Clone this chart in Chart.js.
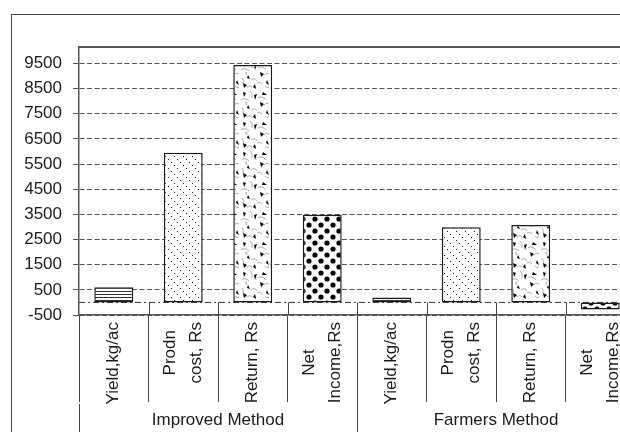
<!DOCTYPE html>
<html><head><meta charset="utf-8">
<script src="https://cdn.jsdelivr.net/npm/chart.js@4.4.1/dist/chart.umd.min.js"></script>
<style>
html,body{margin:0;padding:0;background:#fff;overflow:hidden;width:620px;height:432px;}
#frame{position:absolute;left:11px;top:14px;width:700px;height:500px;border:1.5px solid #4a4a4a;box-sizing:border-box;}
#wrap{position:absolute;left:0;top:0;width:660px;height:432px;}
</style></head><body>
<div id="frame"></div>
<div id="wrap"><canvas id="c" width="660" height="432"></canvas></div>
<script>
const categories = ['Yield,kg/ac', ['Prodn', 'cost, Rs'], 'Return, Rs', ['Net', 'Income,Rs'],
                    'Yield,kg/ac', ['Prodn', 'cost, Rs'], 'Return, Rs', ['Net', 'Income,Rs']];
const groups = ['Improved Method', 'Farmers Method'];
const values = [600, 5950, 9430, 3480, 200, 2990, 3080, -280];
const yTicks = [-500, 500, 1500, 2500, 3500, 4500, 5500, 6500, 7500, 8500, 9500];
const yMin = -500;
const yMax = 10150;

const FONT = 'Liberation Sans, Arial, sans-serif';
const canvas = document.getElementById('c');
const ctxMain = canvas.getContext('2d');

function tile(w, h, draw) {
  const c = document.createElement('canvas');
  c.width = w; c.height = h;
  const g = c.getContext('2d');
  g.fillStyle = '#fff'; g.fillRect(0, 0, w, h);
  g.fillStyle = '#111'; g.strokeStyle = '#111';
  draw(g);
  return ctxMain.createPattern(c, 'repeat');
}
const pHoriz = tile(4, 3, g => { g.fillStyle = '#333'; g.fillRect(0, 0, 4, 1); });
const pDiag = tile(9, 9, g => { g.fillStyle = '#1a1a1a'; [0, 3, 6].forEach(i => g.fillRect(i, i, 1, 1)); });
const pShard = tile(30, 30, g => {
  g.strokeStyle = '#888'; g.lineWidth = 0.7;
  const curves = [[1,10,5,7,9,11], [10,1,13,3,12,8], [18,8,22,5,26,10], [2,18,4,20,3,23], [11,20,15,17,17,21],
                  [24,15,26,12,29,14], [7,27,10,24,12,27], [17,23,20,21,22,24], [25,26,27,29,29,27], [5,13,8,11,6,15]];
  curves.forEach(c => { g.beginPath(); g.moveTo(c[0], c[1]); g.quadraticCurveTo(c[2], c[3], c[4], c[5]); g.stroke(); });
  g.fillStyle = '#000';
  const tris = [[[3,2],[6,3],[4,7]], [[14,5],[17,4],[15,10]], [[23,2],[27,5],[22,5]],
                [[8,15],[10,19],[7,18]], [[20,12],[24,14],[21,17]], [[27,20],[29,25],[26,23]],
                [[3,23],[7,25],[4,28]], [[15,24],[16,29],[13,27]]];
  tris.forEach(t => { g.beginPath(); g.moveTo(t[0][0], t[0][1]); g.lineTo(t[1][0], t[1][1]); g.lineTo(t[2][0], t[2][1]); g.closePath(); g.fill(); });
});
const pDots = tile(12, 12, g => {
  g.fillStyle = '#000';
  [[3, 3], [9, 9]].forEach(p => { g.beginPath(); g.arc(p[0], p[1], 2.6, 0, Math.PI * 2); g.fill(); });
});

const decor = {
  id: 'decor',
  beforeDraw(chart) {
    // centre multi-line rotated category labels on their category, lines centred on each other
    const s = chart.scales.x;
    const items = s.getLabelItems();
    if (items._fixed) return;
    const ctx = chart.ctx;
    items.forEach(it => {
      const lines = Array.isArray(it.label) ? it.label : [it.label];
      const lh = it.font.lineHeight;
      ctx.save(); ctx.font = it.font.string;
      const w = Math.max(...lines.map(l => ctx.measureText(l).width));
      ctx.restore();
      it.options.translation[0] -= (lines.length - 1) * lh / 2;
      it.options.translation[1] += w / 2;
      it.options.textAlign = 'center';
    });
    items._fixed = true;
  },
  beforeDatasetsDraw(chart) {
    const { ctx, chartArea: a, scales: { x, y } } = chart;
    const y0 = y.getPixelForValue(0);
    ctx.save();
    ctx.strokeStyle = '#333'; ctx.lineWidth = 1;
    ctx.setLineDash([6, 3, 2, 3]);
    ctx.beginPath(); ctx.moveTo(a.left, y0); ctx.lineTo(a.right, y0); ctx.stroke();
    ctx.setLineDash([]);
    ctx.strokeStyle = '#444';
    ctx.beginPath();
    for (let i = 1; i < x.ticks.length; i++) {
      const bx = Math.round((x.getPixelForTick(i - 1) + x.getPixelForTick(i)) / 2) + 0.5;
      ctx.moveTo(bx, y0); ctx.lineTo(bx, a.bottom);
    }
    const gx = Math.round((x.getPixelForTick(3) + x.getPixelForTick(4)) / 2) + 0.5;
    ctx.moveTo(gx, a.bottom); ctx.lineTo(gx, chart.height);
    ctx.stroke();
    ctx.strokeStyle = '#555'; ctx.lineWidth = 2;
    ctx.beginPath(); ctx.moveTo(a.left, a.top); ctx.lineTo(chart.width, a.top); ctx.stroke();
    ctx.restore();
  }
};

new Chart(ctxMain, {
  type: 'bar',
  data: {
    labels: categories,
    datasets: [{
      data: values,
      backgroundColor: [pHoriz, pDiag, pShard, pDots, pHoriz, pDiag, pShard, pDots],
      borderColor: '#1a1a1a', borderWidth: 1.5, borderSkipped: false,
      barPercentage: 0.56, categoryPercentage: 1
    }]
  },
  options: {
    responsive: false, animation: false, devicePixelRatio: 1,
    layout: { padding: { left: 0, top: 47, right: 25, bottom: 0 } },
    plugins: { legend: { display: false }, tooltip: { enabled: false } },
    scales: {
      x: {
        position: 'bottom', offset: true,
        grid: { offset: true, drawOnChartArea: false, tickLength: 87, color: '#444', tickColor: '#444', lineWidth: 1 },
        border: { display: true, color: '#555', width: 1.5 },
        ticks: { autoSkip: false, minRotation: 90, maxRotation: 90, padding: -80, color: '#1a1a1a',
                 font: { family: FONT, size: 17, lineHeight: 1.5 } },
        afterFit(s) { s.height = 89; }
      },
      x2: {
        type: 'category', labels: groups, position: 'bottom', offset: true,
        grid: { offset: true, drawOnChartArea: false, tickLength: 28, color: '#444', tickColor: '#444' },
        border: { display: false },
        ticks: { padding: -22, color: '#1a1a1a', font: { family: FONT, size: 17 } },
        afterFit(s) { s.height = 28; }
      },
      y: {
        min: yMin, max: yMax,
        afterBuildTicks(s) { s.ticks = yTicks.map(v => ({ value: v })); },
        grid: { color: '#555', tickColor: '#555', tickLength: 6, lineWidth: 1 },
        border: { display: true, color: '#555', width: 1.5, dash: [5, 2.5] },
        ticks: { padding: 11, color: '#1a1a1a', font: { family: FONT, size: 17 },
                 callback: v => String(v) },
        afterFit(s) { s.width = 79; }
      }
    }
  },
  plugins: [decor]
});
</script>
</body></html>
